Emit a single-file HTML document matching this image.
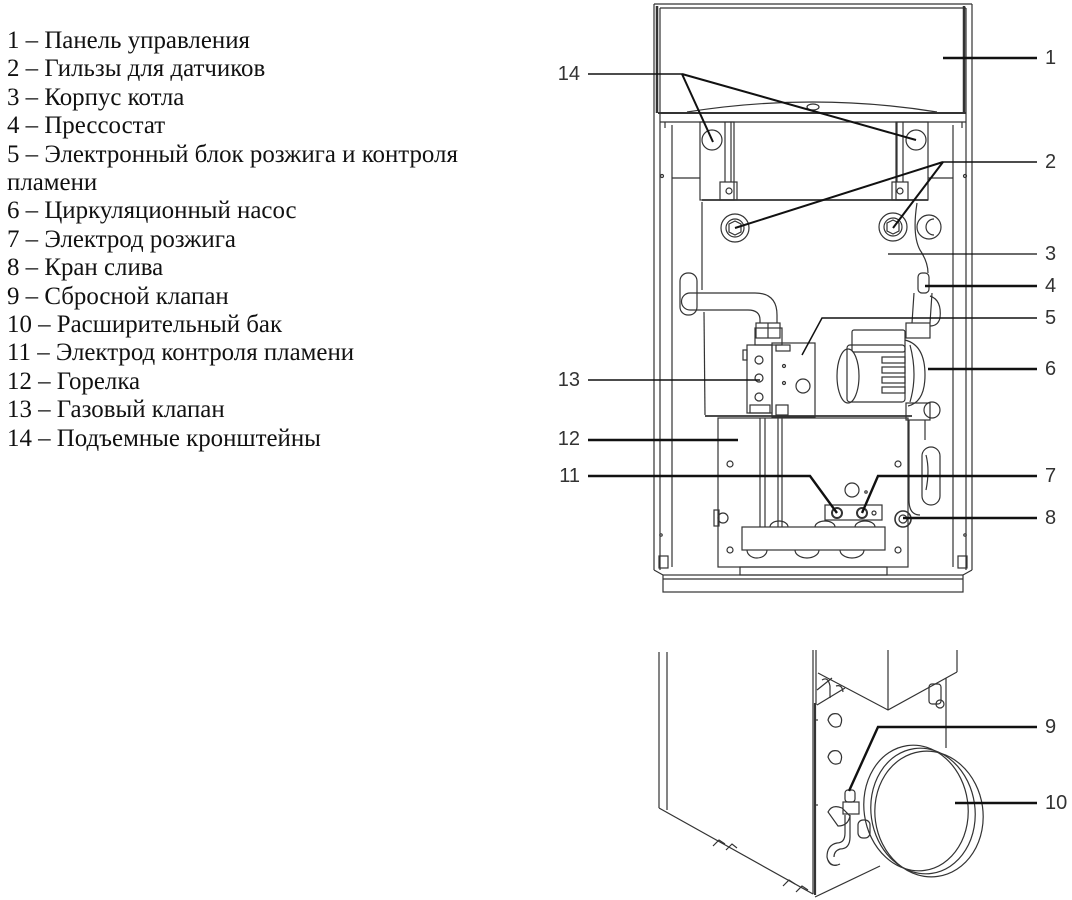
<!DOCTYPE html>
<html>
<head>
<meta charset="utf-8">
<style>
html,body{margin:0;padding:0;background:#fff;}
body{width:1072px;height:900px;position:relative;overflow:hidden;}
.list{position:absolute;left:7px;top:27px;font-family:"Liberation Serif","Noto Serif CJK SC",serif;font-size:24.9px;line-height:28.4px;color:#111;white-space:nowrap;}
svg{position:absolute;left:0;top:0;}
.n{font-family:"Liberation Sans",Arial,sans-serif;font-size:20px;fill:#333;}
</style>
</head>
<body>
<div class="list">
1 – Панель управления<br>
2 – Гильзы для датчиков<br>
3 – Корпус котла<br>
4 – Прессостат<br>
5 – Электронный блок розжига и контроля<br>
пламени<br>
6 – Циркуляционный насос<br>
7 – Электрод розжига<br>
8 – Кран слива<br>
9 – Сбросной клапан<br>
10 – Расширительный бак<br>
11 – Электрод контроля пламени<br>
12 – Горелка<br>
13 – Газовый клапан<br>
14 – Подъемные кронштейны
</div>

<svg width="1072" height="900" viewBox="0 0 1072 900" xmlns="http://www.w3.org/2000/svg">
<g fill="none" stroke="#333" stroke-width="1.2">
  <!-- outer frame -->
  <line x1="654" y1="4" x2="654" y2="570"/>
  <line x1="660" y1="8" x2="660" y2="570"/>
  <line x1="966" y1="8" x2="966" y2="570"/>
  <line x1="972" y1="4" x2="972" y2="570"/>
  <line x1="654" y1="4" x2="972" y2="4"/>
  <line x1="660" y1="8" x2="966" y2="8"/>
  <line x1="657" y1="6" x2="657" y2="113" stroke-width="2.5"/>
  <line x1="964" y1="6" x2="964" y2="113" stroke-width="2.5"/>
  <!-- panel -->
  <line x1="658" y1="113" x2="966" y2="113" stroke-width="2"/>
  <line x1="660" y1="122" x2="966" y2="122"/>
  <line x1="665" y1="122" x2="665" y2="128"/>
  <line x1="962" y1="122" x2="962" y2="128"/>
  <path d="M687,112 Q813,92 937,112"/>
  <ellipse cx="813" cy="107" rx="6" ry="3"/>
  <!-- inner columns -->
  <line x1="672" y1="125" x2="672" y2="567"/>
  <line x1="953" y1="125" x2="953" y2="567"/>
  <line x1="672" y1="178" x2="700" y2="178"/>
  <line x1="928" y1="178" x2="953" y2="178"/>
  <circle cx="662" cy="176" r="1.5"/>
  <circle cx="965" cy="176" r="1.5"/>
  <circle cx="661" cy="535" r="1.2"/>
  <circle cx="965" cy="535" r="1.2"/>
  <!-- brackets -->
  <rect x="700" y="122" width="34" height="78"/>
  <line x1="725" y1="122" x2="725" y2="182"/>
  <line x1="731" y1="122" x2="731" y2="182"/>
  <rect x="720" y="182" width="17" height="18"/>
  <circle cx="729" cy="191" r="3"/>
  <circle cx="712" cy="140" r="10"/>
  <rect x="896" y="122" width="32" height="78"/>
  <line x1="897" y1="122" x2="897" y2="182"/>
  <line x1="903" y1="122" x2="903" y2="182"/>
  <rect x="892" y="182" width="16" height="18"/>
  <circle cx="900" cy="191" r="3"/>
  <circle cx="916" cy="140" r="10"/>
  <!-- body -->
  <line x1="702" y1="200" x2="928" y2="200" stroke-width="1.8"/>
  <path d="M702,202 L702,290"/>
  <path d="M704,312 L705,415"/>
  <path d="M917,203 Q912,235 920,250 Q928,262 928,273"/>
  <circle cx="735" cy="228" r="14"/>
  <circle cx="735" cy="228" r="9"/>
  <path d="M729,224 L735,221 L741,224 L741,232 L735,235 L729,232 Z"/>
  <circle cx="893" cy="227" r="14"/>
  <circle cx="893" cy="227" r="9"/>
  <path d="M887,223 L893,220 L899,223 L899,231 L893,234 L887,231 Z"/>
  <circle cx="929" cy="227" r="12"/>
  <path d="M934,219 A8,8 0 1,0 934,235"/>
  <!-- left pipe -->
  <rect x="680" y="273" width="17" height="42" rx="8"/>
  <path d="M690,293 H755 Q777,293 777,315 V323"/>
  <path d="M690,310 H748 Q760,310 760,320 V323"/>
  <path d="M690,293 A8.5,8.5 0 0,0 690,310"/>
  <rect x="756" y="323" width="24" height="15"/>
  <line x1="768" y1="323" x2="768" y2="338"/>
  <!-- right pipe / pressostat -->
  <rect x="918" y="273" width="11" height="20" rx="4"/>
  <path d="M914,293 L912,323 M932,293 L930,323"/>
  <path d="M930,296 Q942,300 940,318 Q938,326 930,326"/>
  <rect x="906" y="323" width="24" height="15"/>
  <!-- gas valve / ignition block -->
  <rect x="755" y="328" width="27" height="17"/>
  <rect x="747" y="345" width="25" height="68"/>
  <circle cx="759" cy="360" r="4"/>
  <circle cx="759" cy="378" r="4"/>
  <circle cx="759" cy="397" r="4"/>
  <rect x="743" y="350" width="4" height="10"/>
  <rect x="772" y="343" width="43" height="74"/>
  <circle cx="803" cy="386" r="7"/>
  <circle cx="784" cy="366" r="1.5"/>
  <circle cx="784" cy="383" r="1.5"/>
  <rect x="776" y="345" width="14" height="6"/>
  <rect x="750" y="405" width="20" height="8"/>
  <rect x="776" y="405" width="12" height="10"/>
  <line x1="705" y1="416" x2="912" y2="416" stroke-width="1.8"/>
  <!-- pump -->
  <rect x="852" y="330" width="53" height="22" rx="2"/>
  <rect x="847" y="345" width="58" height="57" rx="3"/>
  <ellipse cx="848" cy="376" rx="11" ry="27"/>
  <rect x="882" y="357" width="23" height="6"/>
  <rect x="882" y="367" width="23" height="6"/>
  <rect x="882" y="377" width="23" height="6"/>
  <rect x="882" y="387" width="23" height="6"/>
  <path d="M905,340 Q925,345 925,375 Q925,402 908,406"/>
  <path d="M910,345 Q918,375 910,402"/>
  <rect x="906" y="403" width="24" height="17"/>
  <circle cx="932" cy="410" r="8"/>
  <!-- right hose -->
  <path d="M909,420 V500 Q909,515 920,515"/>
  <path d="M925,420 V440"/>
  <rect x="922" y="447" width="18" height="58" rx="9"/>
  <path d="M926,455 Q930,470 926,490"/>
  <!-- burner box -->
  <rect x="718" y="418" width="190" height="149"/>
  <line x1="760" y1="418" x2="760" y2="527"/>
  <line x1="765" y1="418" x2="765" y2="527"/>
  <line x1="778" y1="418" x2="778" y2="527"/>
  <line x1="782" y1="418" x2="782" y2="527"/>
  <rect x="742" y="527" width="143" height="23"/>
  <path d="M747,550 A10,8 0 0,0 767,550 M795,550 A12,8 0 0,0 819,550 M840,550 A12,8 0 0,0 864,550"/>
  <path d="M770,527 A9,6 0 0,1 788,527 M815,527 A10,6 0 0,1 835,527 M855,527 A10,6 0 0,1 875,527"/>
  <circle cx="730" cy="464" r="3"/>
  <circle cx="898" cy="464" r="3"/>
  <circle cx="730" cy="550" r="3"/>
  <circle cx="898" cy="550" r="3"/>
  <circle cx="852" cy="490" r="7"/>
  <circle cx="866" cy="492" r="1.2"/>
  <rect x="825" y="505" width="57" height="15"/>
  <circle cx="837" cy="513" r="5" stroke-width="2"/>
  <circle cx="862" cy="513" r="5" stroke-width="2"/>
  <circle cx="874" cy="513" r="2"/>
  <rect x="740" y="567" width="147" height="8"/>
  <circle cx="723" cy="518" r="5"/>
  <rect x="714" y="510" width="5" height="16"/>
  <!-- drain -->
  <circle cx="903" cy="519" r="8" stroke-width="1.6"/>
  <circle cx="903" cy="519" r="4"/>
  <!-- base -->
  <rect x="663" y="575" width="300" height="17"/>
  <line x1="663" y1="579" x2="963" y2="579"/>
  <rect x="659" y="556" width="9" height="12"/>
  <rect x="958" y="556" width="9" height="12"/>
  <line x1="654" y1="570" x2="663" y2="575"/>
  <line x1="972" y1="570" x2="963" y2="575"/>

  <!-- lower drawing -->
  <line x1="659" y1="652" x2="659" y2="808"/>
  <line x1="667" y1="652" x2="667" y2="810"/>
  <line x1="659" y1="808" x2="813" y2="894"/>
  <line x1="813" y1="650" x2="813" y2="894"/>
  <line x1="816" y1="650" x2="816" y2="705"/>
  <line x1="815" y1="703" x2="815" y2="895" stroke-width="2.2"/>
  <path d="M818,673 L888,710 L957,672"/>
  <line x1="888" y1="650" x2="888" y2="710"/>
  <line x1="957" y1="650" x2="957" y2="672"/>
  <path d="M817,705 L845,688 M817,690 L832,678"/>
  <path d="M822,680 q6,-4 8,6 v12 M836,686 q6,-2 7,6"/>
  <line x1="946" y1="678" x2="946" y2="748"/>
  <rect x="929" y="684" width="12" height="20" rx="3"/>
  <circle cx="940" cy="704" r="4"/>
  <line x1="815" y1="897" x2="880" y2="866"/>
  <path d="M713,846 l6,-6 l6,4 M726,850 l6,-6 l5,4 M783,886 l6,-6 l6,4 M796,892 l6,-6 l6,4"/>
  <path d="M828,720 q2,-8 10,-6 q6,4 2,12 q-8,4 -12,-6z"/>
  <path d="M828,757 q2,-8 10,-6 q6,4 2,12 q-8,4 -12,-6z"/>
  <line x1="815" y1="720" x2="818" y2="720"/>
  <line x1="815" y1="805" x2="818" y2="805"/>
  <!-- valve fittings -->
  <rect x="845" y="790" width="10" height="12" rx="3"/>
  <rect x="843" y="802" width="16" height="12"/>
  <path d="M828,812 q4,-8 14,-4 l8,8 q-2,10 -12,10 z"/>
  <rect x="858" y="820" width="12" height="18" rx="5"/>
  <path d="M845,815 v18 q0,10 -8,10 q-10,2 -10,14 q2,10 10,8"/>
  <path d="M850,815 v22 q0,12 -10,12 q-6,2 -6,8"/>
  <path d="M828,860 q4,8 12,4"/>
  <!-- tank -->
  <ellipse cx="916" cy="808" rx="52" ry="63" transform="rotate(-8 916 808)"/>
  <ellipse cx="923" cy="811" rx="52" ry="63" transform="rotate(-8 923 811)"/>
  <ellipse cx="929" cy="814" rx="54" ry="63" transform="rotate(-8 929 814)"/>
</g>

<!-- leader lines -->
<g stroke="#111" fill="none" stroke-linecap="butt">
  <line x1="943" y1="58" x2="1037" y2="58" stroke-width="2.4"/>
  <polyline points="588,74 682,74" stroke-width="1.4"/>
  <line x1="682" y1="74" x2="713" y2="142" stroke-width="2"/>
  <line x1="682" y1="74" x2="916" y2="140" stroke-width="2"/>
  <line x1="943" y1="162" x2="1037" y2="162" stroke-width="1.4"/>
  <line x1="943" y1="162" x2="735" y2="228" stroke-width="2"/>
  <line x1="943" y1="162" x2="893" y2="228" stroke-width="2"/>
  <line x1="888" y1="254" x2="1037" y2="254" stroke-width="1.3"/>
  <line x1="925" y1="286" x2="1037" y2="286" stroke-width="2.4"/>
  <polyline points="802,355 822,318 1037,318" stroke-width="1.5"/>
  <line x1="928" y1="369" x2="1037" y2="369" stroke-width="2.4"/>
  <polyline points="1037,476 878,476 862,513" stroke-width="2.4"/>
  <line x1="903" y1="518" x2="1037" y2="518" stroke-width="2.4"/>
  <line x1="588" y1="380" x2="760" y2="380" stroke-width="1.4"/>
  <line x1="588" y1="440" x2="738" y2="440" stroke-width="2.4"/>
  <polyline points="588,476 810,476 837,513" stroke-width="2.4"/>
  <polyline points="849,791 878,727 1037,727" stroke-width="2.4"/>
  <line x1="955" y1="803" x2="1037" y2="803" stroke-width="2.4"/>
</g>

<!-- numbers -->
<g class="n" dominant-baseline="central">
  <text x="1045" y="58">1</text>
  <text x="1045" y="162">2</text>
  <text x="1045" y="254">3</text>
  <text x="1045" y="286">4</text>
  <text x="1045" y="318">5</text>
  <text x="1045" y="369">6</text>
  <text x="1045" y="476">7</text>
  <text x="1045" y="518">8</text>
  <text x="1045" y="727">9</text>
  <text x="1045" y="803">10</text>
  <text x="580" y="74" text-anchor="end">14</text>
  <text x="580" y="380" text-anchor="end">13</text>
  <text x="580" y="439" text-anchor="end">12</text>
  <text x="580" y="476" text-anchor="end">11</text>
</g>
</svg>
</body>
</html>
